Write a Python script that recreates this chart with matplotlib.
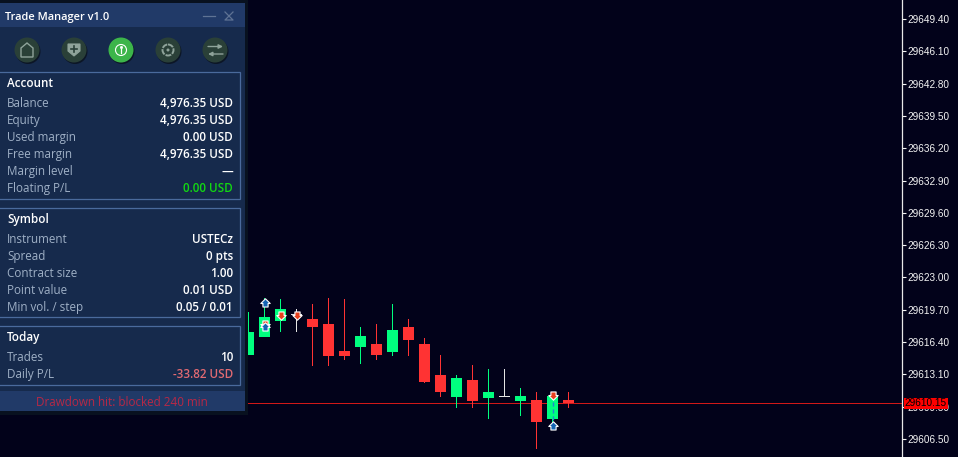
#!/usr/bin/env python3
"""Trade manager panel over a candlestick chart."""
import numpy as np
import matplotlib
matplotlib.use("Agg")
import matplotlib.pyplot as plt
from matplotlib.patches import Rectangle, Circle, Polygon
from matplotlib.path import Path
from matplotlib.transforms import blended_transform_factory

W, H = 958, 457
bg = "#02021a"
green = "#00ff7f"
red = "#ff3333"
doji = "#e4e4e4"

# candles, left to right
opens = [29615.13, 29616.87, 29618.60, 29619.17, 29618.71, 29618.20, 29615.44, 29615.85, 29616.25, 29615.34,
         29617.99, 29616.25, 29612.99, 29610.84, 29612.48, 29610.64, 29610.89, 29610.43, 29610.53, 29608.59, 29610.53]
closes = [29617.48, 29619.01, 29619.73, 29619.17, 29617.89, 29614.93, 29614.93, 29616.97, 29615.13, 29617.68,
          29616.66, 29612.37, 29611.35, 29612.78, 29610.43, 29611.25, 29610.89, 29610.94, 29608.19, 29610.94, 29610.13]
highs = [29619.52, 29620.95, 29620.75, 29619.73, 29620.24, 29620.95, 29620.75, 29617.99, 29618.20, 29620.24,
         29618.71, 29616.77, 29615.03, 29612.99, 29614.01, 29613.70, 29613.70, 29611.76, 29611.25, 29611.25, 29611.25]
lows = [29615.13, 29616.87, 29617.38, 29617.38, 29613.91, 29613.91, 29614.62, 29614.11, 29614.62, 29614.93,
        29614.93, 29612.17, 29610.84, 29609.62, 29609.62, 29608.59, 29610.84, 29608.90, 29605.43, 29607.78, 29609.62]

price_ticks = [29649.40, 29646.10, 29642.80, 29639.50, 29636.20, 29632.90, 29629.60,
               29626.30, 29623.00, 29619.70, 29616.40, 29613.10, 29609.80, 29606.50]
last_price = 29610.15

buy_idx = [1, 1, 19]
buy_px = [29620.34, 29617.99, 29607.78]
sell_idx = [1, 2, 3, 19]
sell_px = [29618.20, 29619.20, 29619.17, 29610.97]

# panel rows
account_labels = ["Balance", "Equity", "Used margin", "Free margin", "Margin level", "Floating P/L"]
account_values = ["4,976.35 USD", "4,976.35 USD", "0.00 USD", "4,976.35 USD", "—", "0.00 USD"]
symbol_labels = ["Instrument", "Spread", "Contract size", "Point value", "Min vol. / step"]
symbol_values = ["USTECz", "0 pts", "1.00", "0.01 USD", "0.05 / 0.01"]
today_labels = ["Trades", "Daily P/L"]
today_values = ["10", "-33.82 USD"]

#------- chart -------#

fig = plt.figure(figsize=(W / 100, H / 100), dpi=100, facecolor=bg)
plt.rcParams["font.family"] = ["Open Sans", "DejaVu Sans"]

ax = fig.add_axes([0, 0, 901.5 / W, 1], facecolor=bg)
bar_px = 16.0
px_price = 0.10214
ax.set_xlim(-248.5 / bar_px, (901.5 - 248.5) / bar_px)
ax.set_ylim(29606.5 + (439.0 - 457) * px_price, 29606.5 + 439.0 * px_price)

x = np.arange(len(opens))
cols = [doji if o == c else (green if c > o else red) for o, c in zip(opens, closes)]
# wicks as 1px bars, they stay crisp
ax.bar(x, np.subtract(highs, lows), bottom=lows, width=1 / bar_px, color=cols, lw=0, zorder=2)
for i, (o, c, col) in enumerate(zip(opens, closes, cols)):
    if o == c:
        ax.bar(i, px_price, bottom=o - px_price / 2, width=11 / bar_px, color=col, lw=0, zorder=3)
    else:
        ax.bar(i, abs(c - o), bottom=min(o, c), width=11 / bar_px, color=col, lw=0, zorder=3)

ax.axhspan(last_price - px_price / 2, last_price + px_price / 2, color="#d01818", lw=0, zorder=1)

# trade arrows
up = Path([(0, 1), (1, 0), (0.55, 0), (0.55, -0.75), (-0.55, -0.75), (-0.55, 0), (-1, 0), (0, 1)], closed=True)
down = Path([(0, -1), (1, 0), (0.55, 0), (0.55, 0.75), (-0.55, 0.75), (-0.55, 0), (-1, 0), (0, -1)], closed=True)
ax.plot([19, 19], [sell_px[-1], buy_px[-1]], color="#1e88d0", lw=1, ls=(0, (3, 2)), zorder=4)
ax.scatter(sell_idx, sell_px, marker=down, s=46, facecolor="#e8401c", edgecolor="white", lw=0.8, zorder=5)
ax.scatter(buy_idx, buy_px, marker=up, s=46, facecolor="#1464b4", edgecolor="white", lw=0.8, zorder=6)

for side in ["left", "top", "bottom"]:
    ax.spines[side].set_visible(False)
ax.spines["right"].set_color("#e8e8e8")
ax.spines["right"].set_linewidth(0.9)
ax.set_xticks([])
ax.yaxis.tick_right()
ax.set_yticks(price_ticks)
ax.set_yticklabels([f"{p:.2f}" for p in price_ticks])
ax.tick_params(axis="y", colors="#f4f4f4", length=3, width=0.8, pad=1.5, labelsize=7.2)
for lab in ax.get_yticklabels():
    lab.set_fontfamily("Liberation Sans")

#------- panel, drawn in pixel coordinates -------#

pn = fig.add_axes([0, 0, 1, 1], facecolor="none", zorder=10)
pn.set_xlim(0, W)
pn.set_ylim(H, 0)
pn.axis("off")

# last price flag on the axis
flag = blended_transform_factory(pn.transData, ax.transData)
pn.add_patch(Rectangle((904, last_price - 0.56), 44, 1.12, transform=flag, facecolor="#ff0000", lw=0))
pn.text(926, last_price, f"{last_price:.2f}", transform=flag, color="black", fontsize=7.2,
        family="Liberation Sans", ha="center", va="center")

def rect(x0, y0, x1, y1, **kw):
    pn.add_patch(Rectangle((x0, y0), x1 - x0, y1 - y0, **kw))

rect(0, 0, 248, 415, facecolor="#08111f", lw=0)
rect(0, 3, 245, 411, facecolor="#162a4c", lw=0)
rect(0, 3, 245, 27, facecolor="#213a68", lw=0)
rect(0, 391, 245, 411, facecolor="#213a68", lw=0)

pn.text(5, 20, "Trade Manager v1.0", color="white", fontsize=7.9, weight="semibold", va="baseline")
pn.plot([203, 215], [16, 16], color="#5f7394", lw=0.9)
pn.plot([225, 233, 225, 233], [12, 20, 20, 12], color="#5f7394", lw=0.9)

# nav icons
icon_x = [27, 74, 121, 168, 215]
for i, cx in enumerate(icon_x):
    on = i == 2
    pn.add_patch(Circle((cx + 1, 51.5), 12.5, facecolor="#0c1626", lw=0))
    pn.add_patch(Circle((cx, 50), 12.5, facecolor="#3cb54a" if on else "#2a4038", lw=0))
ic = "#8fa39a"
pn.add_patch(Polygon([(21, 57), (21, 48), (27, 43), (33, 48), (33, 57)], closed=True, fill=False, edgecolor=ic, lw=1))
pn.add_patch(Polygon([(68, 44), (80, 44), (80, 51), (74, 56), (68, 51)], closed=True, facecolor=ic, edgecolor=ic, lw=0.8))
pn.plot([74, 74], [46, 52], color="#2a4038", lw=1.2)
pn.plot([71, 77], [49, 49], color="#2a4038", lw=1.2)
pn.add_patch(Circle((121, 50), 5.5, fill=False, edgecolor="white", lw=0.8))
pn.plot([121, 121], [49, 53], color="white", lw=0.9)
pn.plot([121], [47], marker="s", ms=1, color="white")
pn.add_patch(Circle((168, 50), 5.5, fill=False, edgecolor=ic, lw=1.4, ls=(0, (3, 0.6))))
pn.add_patch(Circle((168, 50), 1.5, facecolor=ic, lw=0))
pn.annotate("", xy=(223, 46.5), xytext=(208, 46.5),
            arrowprops=dict(arrowstyle="-|>", color=ic, lw=1, mutation_scale=6, shrinkA=0, shrinkB=0))
pn.annotate("", xy=(208, 54), xytext=(223, 54),
            arrowprops=dict(arrowstyle="-|>", color=ic, lw=1, mutation_scale=6, shrinkA=0, shrinkB=0))

def section(top, bottom, title, title_y, first_y, labels, values, colors=None):
    rect(-2, top, 240.5, bottom, facecolor="none", edgecolor="#4a6a9c", lw=0.9)
    pn.text(7, title_y, title, color="white", fontsize=8.4, weight="semibold", va="baseline")
    for k, (lab, val) in enumerate(zip(labels, values)):
        y = first_y + 17 * k
        pn.text(7, y, lab, color="#9fb0c6", fontsize=8.4, va="baseline")
        col = colors[k] if colors else "white"
        pn.text(233, y, val, color=col, fontsize=8.4, weight="semibold", va="baseline", ha="right")

section(72, 199, "Account", 87, 107, account_labels, account_values,
        ["white"] * 5 + ["#12d812"])
section(208, 317, "Symbol", 223, 243, symbol_labels, symbol_values)
section(326, 385, "Today", 341, 361, today_labels, today_values, ["white", "#e26a72"])

pn.text(122, 406, "Drawdown hit: blocked 240 min", color="#b82846", fontsize=8.4, ha="center", va="baseline")

fig.savefig("out.png", dpi=100, facecolor=bg)
